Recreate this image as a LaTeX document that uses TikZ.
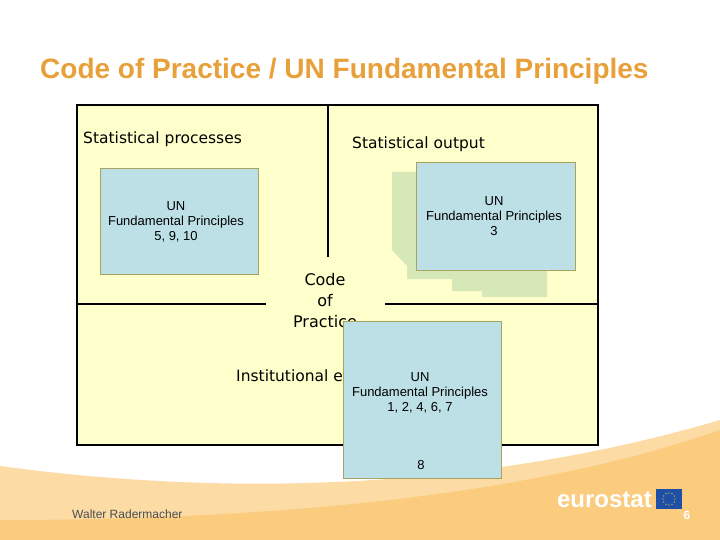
\documentclass[tikz,border=0pt]{standalone}
\usepackage{fontspec}
\usetikzlibrary{calc}
\setmainfont{DejaVu Sans}
\newfontfamily\arialf{Liberation Sans}
\begin{document}
\begin{tikzpicture}[x=1pt,y=-1pt,
 ubox/.style={draw=olive!70!black!60,fill=boxblue,line width=0.6pt},
 utext/.style={font=\arialf\fontsize{13}{15}\selectfont,align=center,inner sep=0},
 big/.style={font=\fontsize{15.5}{18}\selectfont,inner sep=0},
 bigc/.style={font=\fontsize{16}{21}\selectfont,inner sep=0,align=center}]
\definecolor{boxblue}{HTML}{BDE0E6}
\definecolor{frameY}{HTML}{FFFFCC}
\definecolor{shadowG}{HTML}{D6E8B8}
\definecolor{titleO}{HTML}{E8A03A}
\definecolor{swoosh}{HTML}{FBCB7E}
\definecolor{euB}{HTML}{1F4FA8}
\useasboundingbox (0,0) rectangle (720,540);
\fill[white] (0,0) rectangle (720,540);
\fill[swoosh!70] (0,466) .. controls (250,500) and (500,485) .. (720,420) -- (720,540) -- (0,540) -- cycle;
\fill[swoosh] (0,520) .. controls (250,520) and (520,500) .. (720,430) -- (720,540) -- (0,540) -- cycle;
\node[anchor=west,text=titleO,font=\arialf\bfseries\fontsize{28}{32}\selectfont,inner sep=0] (title) at (40,71) {Code of Practice / UN Fundamental Principles};
\draw[line width=1.5pt,fill=frameY] (77,105) rectangle (598,445);
\coordinate (vt) at (328,105); \coordinate (vb) at (328,257);
\draw[line width=1.5pt] (vt) -- (vb);
\coordinate (h1) at (77,304); \coordinate (h2) at (266,304);
\coordinate (h3) at (385,304); \coordinate (h4) at (598,304);
\draw[line width=1.5pt] (h1) -- (h2) (h3) -- (h4);
\node[big,anchor=west] (sp) at (83,139) {Statistical processes};
\node[big,anchor=west] (so) at (352,144) {Statistical output};
\node[bigc] (cop) at (325,301) {Code\\of\\Practice};
\node[big,anchor=west] (ie) at (236,376) {Institutional environment};
\fill[shadowG] (392,172) -- (420,172) -- (420,270) -- (547,270) -- (547,297) -- (482,297) -- (482,291) -- (452,291) -- (452,279) -- (407,279) -- (407,266) -- (392,250) -- cycle;
\node[ubox,minimum width=158,minimum height=106] (lb) at (179,221) {};
\node[utext] at (176,222) {UN\\Fundamental Principles\\5, 9, 10};
\node[ubox,minimum width=159,minimum height=108] (rb) at (495.5,216) {};
\node[utext] at (494,216) {UN\\Fundamental Principles\\3};
\node[ubox,minimum width=158,minimum height=157] (bb) at (422,399.5) {};
\node[utext] at (420,393) {UN\\Fundamental Principles\\1, 2, 4, 6, 7};
\node[utext] at (421,465) {8};
\node[anchor=west,text=black!70,font=\arialf\fontsize{12}{14}\selectfont,inner sep=0] (auth) at (72,514) {Walter Radermacher};
\node[anchor=east,text=white,font=\arialf\bfseries\fontsize{24}{26}\selectfont,inner sep=0] (eu) at (652,500) {eurostat};
\fill[euB] (656,489) rectangle (682,509);
\foreach \a in {0,30,...,330} \fill[yellow] ($(669,499)+(\a:6)$) circle (0.6);
\node[text=white,font=\arialf\bfseries\fontsize{12}{14}\selectfont,inner sep=0] (pg) at (687,515) {6};
\end{tikzpicture}
\end{document}
